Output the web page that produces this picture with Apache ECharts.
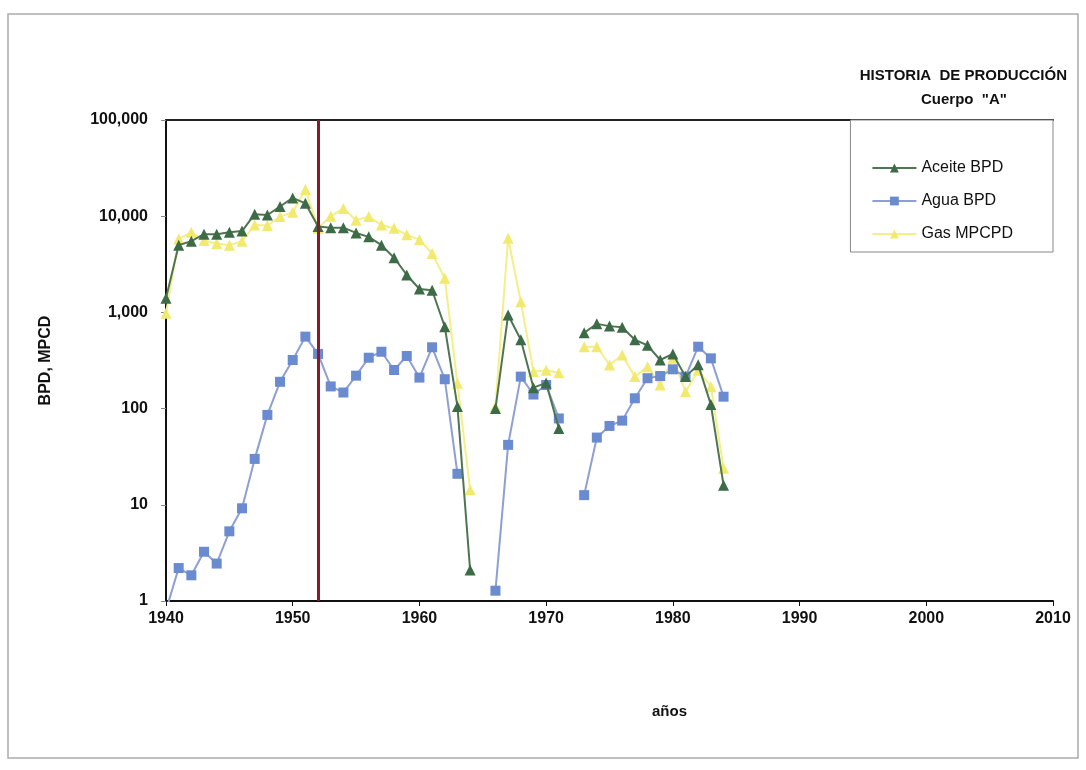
<!DOCTYPE html>
<html>
<head>
<meta charset="utf-8">
<script src="https://cdn.jsdelivr.net/npm/echarts@6/dist/echarts.min.js"></script>
<style>
  html, body { margin: 0; padding: 0; background: #fff; }
  #chart { width: 1086px; height: 770px; }
</style>
</head>
<body>
<div id="chart"></div>
<script>
// datos (null = sin dato)
const years = [1940, 1941, 1942, 1943, 1944, 1945, 1946, 1947, 1948, 1949,
  1950, 1951, 1952, 1953, 1954, 1955, 1956, 1957, 1958, 1959,
  1960, 1961, 1962, 1963, 1964, 1965, 1966, 1967, 1968, 1969,
  1970, 1971, 1972, 1973, 1974, 1975, 1976, 1977, 1978, 1979,
  1980, 1981, 1982, 1983, 1984]
const aceite = [1400, 5000, 5500, 6500, 6500, 6800, 7000, 10500, 10300, 12600,
  15500, 13600, 7800, 7600, 7600, 6700, 6100, 5000, 3700, 2450,
  1750, 1700, 710, 105, 2.1, null, 100, 940, 520, 165,
  185, 62, null, 615, 760, 720, 700, 520, 455, 320,
  370, 215, 285, 110, 16]
const agua = [0.8, 2.2, 1.85, 3.25, 2.45, 5.3, 9.2, 30, 86, 190,
  320, 560, 370, 170, 147, 220, 338, 390, 252, 352,
  210, 434, 202, 21, null, null, 1.28, 42, 215, 140,
  176, 79, null, 12.6, 50, 66, 75, 128, 207, 218,
  256, 215, 440, 333, 133]
const gas = [980, 5800, 6800, 5600, 5200, 5000, 5500, 8100, 8000, 9900,
  11000, 19000, 7500, 10000, 12000, 9100, 9900, 8100, 7500, 6400,
  5700, 4100, 2260, 183, 14.3, null, 105, 5900, 1290, 242,
  250, 236, null, 440, 440, 284, 360, 215, 273, 176,
  333, 150, 250, 169, 24]
const markerYear = 1952

const font = "'Liberation Sans', Arial, sans-serif"

function pairs(vals) {
  return years.map((y, i) => [y, vals[i]])
}

const myChart = echarts.init(document.getElementById('chart'))
const option = {
  backgroundColor: '#fff',
  animation: false,
  title: [
    {
      text: 'HISTORIA  DE PRODUCCIÓN',
      right: 14,
      top: 63,
      textStyle: { fontFamily: font, fontSize: 15, fontWeight: 'bold', color: '#111' }
    },
    {
      text: 'Cuerpo  "A"',
      left: 916,
      top: 87,
      textStyle: { fontFamily: font, fontSize: 15, fontWeight: 'bold', color: '#111' }
    },
    {
      text: 'años',
      left: 647,
      top: 699,
      textStyle: { fontFamily: font, fontSize: 15, fontWeight: 'bold', color: '#111' }
    }
  ],
  graphic: [
    {
      type: 'rect',
      shape: { x: 8, y: 14, width: 1070, height: 744 },
      style: { fill: 'none', stroke: '#aaa', lineWidth: 1.5 },
      silent: true
    }
  ],
  legend: {
    orient: 'vertical',
    right: 33,
    top: 120,
    padding: [40, 40, 10, 21],
    itemGap: 17,
    itemWidth: 44,
    itemHeight: 11,
    backgroundColor: '#fff',
    borderColor: '#888',
    borderWidth: 1,
    borderRadius: 0,
    textStyle: { fontFamily: font, fontSize: 16, color: '#111' },
    data: ['Aceite BPD', 'Agua BPD', 'Gas MPCPD']
  },
  grid: {
    left: 166,
    right: 33,
    top: 120,
    bottom: 169
  },
  xAxis: [
    {
      type: 'value',
      min: 1940,
      max: 2010,
      interval: 10,
      axisLine: { show: true, lineStyle: { color: '#111', width: 2 } },
      axisTick: { show: true, length: 5, lineStyle: { color: '#111' } },
      splitLine: { show: false },
      axisLabel: {
        margin: 10,
        fontFamily: font,
        fontSize: 16,
        fontWeight: 'bold',
        color: '#111',
        formatter: v => String(v)
      }
    },
    {
      type: 'value',
      position: 'top',
      min: 1940,
      max: 2010,
      axisLine: { show: true, lineStyle: { color: '#222', width: 2 } },
      axisTick: { show: false },
      axisLabel: { show: false },
      splitLine: { show: false }
    }
  ],
  yAxis: {
    type: 'log',
    logBase: 10,
    min: 1,
    max: 100000,
    name: 'BPD, MPCD',
    nameLocation: 'middle',
    nameGap: 112,
    nameTextStyle: { fontFamily: font, fontSize: 16, fontWeight: 'bold', color: '#111' },
    axisLine: { show: true, lineStyle: { color: '#111', width: 2 } },
    axisTick: { show: true, length: 5, lineStyle: { color: '#888' } },
    splitLine: { show: false },
    minorTick: { show: false },
    axisLabel: {
      margin: 18,
      fontFamily: font,
      fontSize: 16,
      fontWeight: 'bold',
      color: '#111',
      formatter: v => Math.round(v).toLocaleString('en-US')
    }
  },
  series: [
    {
      name: 'Aceite BPD',
      type: 'line',
      z: 4,
      data: pairs(aceite),
      symbol: 'triangle',
      symbolSize: 11,
      lineStyle: { color: '#4f7550', width: 2 },
      itemStyle: { color: '#3d6a47' },
      markLine: {
        silent: true,
        symbol: 'none',
        label: { show: false },
        lineStyle: { color: '#8a1a2b', width: 3, type: 'solid' },
        data: [{ xAxis: markerYear }]
      }
    },
    {
      name: 'Agua BPD',
      type: 'line',
      z: 3,
      data: pairs(agua),
      symbol: 'rect',
      symbolSize: 10,
      lineStyle: { color: '#8d9fd3', width: 2 },
      itemStyle: { color: '#6a8bd0' }
    },
    {
      name: 'Gas MPCPD',
      type: 'line',
      z: 2,
      data: pairs(gas),
      symbol: 'triangle',
      symbolSize: 11,
      lineStyle: { color: '#f4ef86', width: 2 },
      itemStyle: { color: '#f1ea6e' }
    }
  ]
}
myChart.setOption(option)
</script>
</body>
</html>
